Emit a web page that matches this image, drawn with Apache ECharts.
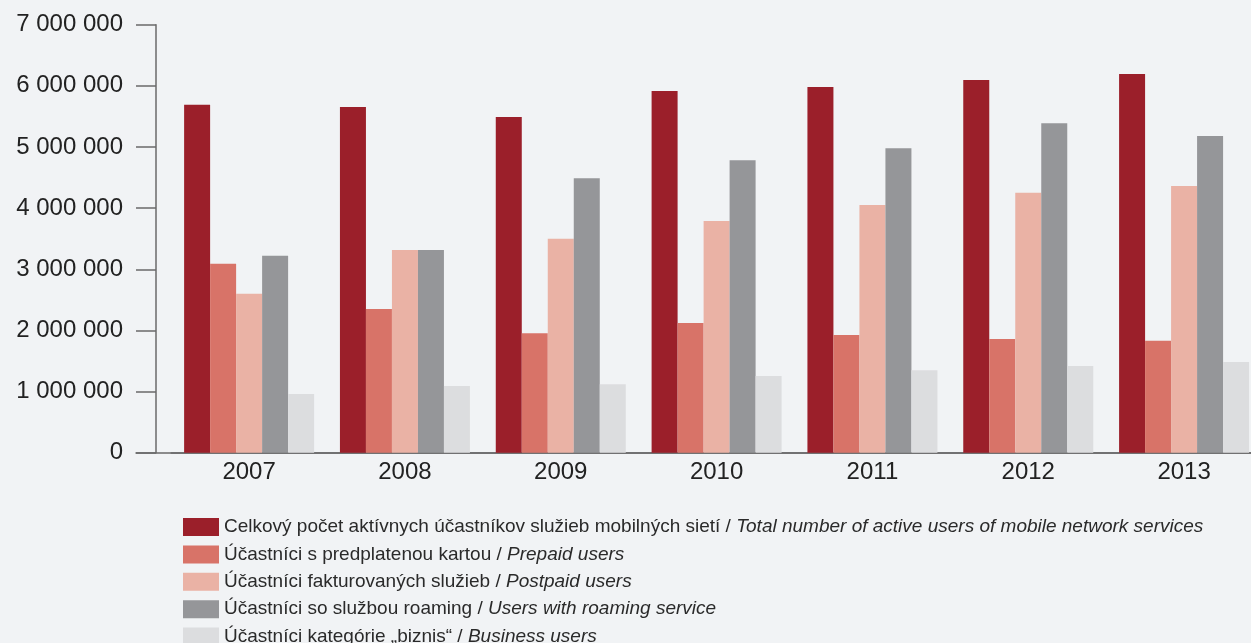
<!DOCTYPE html>
<html>
<head>
<meta charset="utf-8">
<script src="https://cdn.jsdelivr.net/npm/echarts@6/dist/echarts.min.js"></script>
<style>
html,body{margin:0;padding:0;background:#f1f3f5;}
#c{width:1251px;height:643px;}
</style>
</head>
<body>
<div id="c"></div>
<script>
const years = ['2007','2008','2009','2010','2011','2012','2013'];
const totalUsers    = [5690000, 5655000, 5490000, 5915000, 5980000, 6095000, 6195000];
const prepaidUsers  = [3090000, 2350000, 1955000, 2120000, 1925000, 1860000, 1830000];
const postpaidUsers = [2600000, 3315000, 3500000, 3790000, 4050000, 4250000, 4360000];
const roamingUsers  = [3220000, 3315000, 4490000, 4785000, 4980000, 5390000, 5180000];
const businessUsers = [960000, 1090000, 1120000, 1255000, 1350000, 1420000, 1485000];
const seriesNames = [
  'Celkový počet aktívnych účastníkov služieb mobilných sietí / Total number of active users of mobile network services',
  'Účastníci s predplatenou kartou / Prepaid users',
  'Účastníci fakturovaných služieb / Postpaid users',
  'Účastníci so službou roaming / Users with roaming service',
  'Účastníci kategórie „biznis“ / Business users'
];
const seriesColors = ['#9b1f2a', '#d87368', '#eab2a5', '#959699', '#dcdddf'];
const seriesData = [totalUsers, prepaidUsers, postpaidUsers, roamingUsers, businessUsers];

const FONT = '"Liberation Sans", Arial, sans-serif';
const axisColor = '#6a6a6a';
const chart = echarts.init(document.getElementById('c'), null, {renderer: 'canvas'});

function fmt(v) {
  return String(v).replace(/\B(?=(\d{3})+(?!\d))/g, ' ');
}

chart.setOption({
  backgroundColor: '#f1f3f5',
  animation: false,
  textStyle: {fontFamily: FONT},
  grid: [
    {left: 171.2, width: 1090.8, top: 24.7, bottom: 190.3, containLabel: false, outerBoundsMode: 'none'},
    {left: 136, width: 1200, top: 452.7, height: 0, outerBoundsMode: 'none'}
  ],
  legend: {
    orient: 'vertical',
    left: 183,
    top: 517.5,
    height: 200,
    padding: 0,
    itemWidth: 36,
    itemHeight: 18,
    itemGap: 8.4,
    icon: 'rect',
    selectedMode: false,
    data: seriesNames,
    formatter: function (name) {
      const i = name.indexOf(' / ');
      return '{r|' + name.slice(0, i) + ' / }{i|' + name.slice(i + 3) + '}';
    },
    textStyle: {
      fontFamily: FONT,
      fontSize: 19,
      lineHeight: 18,
      color: '#2a2a2a',
      rich: {
        r: {fontFamily: FONT, fontSize: 19, lineHeight: 18, color: '#2a2a2a'},
        i: {fontFamily: FONT, fontSize: 19, lineHeight: 18, color: '#2a2a2a', fontStyle: 'italic'}
      }
    }
  },
  xAxis: [
    {
      type: 'category',
      gridIndex: 0,
      data: years,
      axisLine: {show: true, lineStyle: {color: axisColor, width: 1.5}},
      axisTick: {show: false},
      axisLabel: {fontFamily: FONT, fontSize: 24, color: '#222', margin: 8}
    },
    {
      type: 'value',
      gridIndex: 1,
      min: 0, max: 1,
      axisLine: {show: true, lineStyle: {color: axisColor, width: 1.5}},
      axisTick: {show: false},
      axisLabel: {show: false},
      splitLine: {show: false}
    }
  ],
  yAxis: [
    {
      type: 'value',
      gridIndex: 0,
      min: 0,
      max: 7000000,
      interval: 1000000,
      offset: 15.2,
      axisLine: {show: true, lineStyle: {color: axisColor, width: 1.5}},
      axisTick: {show: true, length: 20, lineStyle: {color: axisColor, width: 1.5}},
      splitLine: {show: false},
      axisLabel: {
        fontFamily: FONT, fontSize: 24, color: '#222', margin: 33,
        formatter: fmt
      }
    },
    {
      type: 'value',
      gridIndex: 1,
      show: false
    }
  ],
  series: seriesNames.map((n, i) => ({
    name: n,
    type: 'bar',
    xAxisIndex: 0,
    yAxisIndex: 0,
    data: seriesData[i],
    barWidth: 26,
    barGap: '0%',
    itemStyle: {color: seriesColors[i]},
    emphasis: {disabled: true}
  }))
});
</script>
</body>
</html>
